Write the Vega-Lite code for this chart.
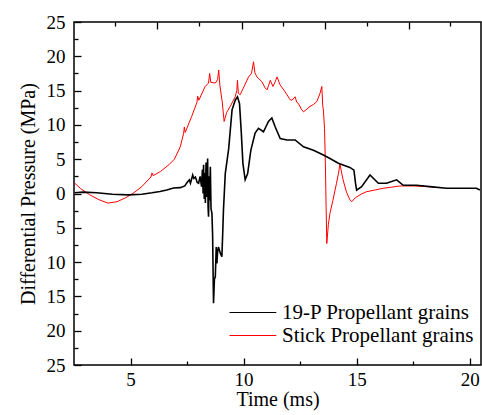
{
  "$schema": "https://vega.github.io/schema/vega-lite/v6.json",
  "width": 407,
  "height": 343,
  "autosize": {"type": "none"},
  "padding": {"left": 74, "top": 22, "right": 1, "bottom": 50},
  "config": {
    "view": {"stroke": "#000", "strokeWidth": 1.5},
    "axis": {
      "grid": false,
      "domain": false,
      "tickColor": "#000",
      "tickWidth": 1.3,
      "labelFont": "Liberation Serif",
      "labelFontSize": 19,
      "labelColor": "#000",
      "titleFont": "Liberation Serif",
      "titleFontSize": 20,
      "titleFontWeight": "normal",
      "titleColor": "#000"
    },
    "legend": {
      "labelFont": "Liberation Serif",
      "labelFontSize": 21,
      "labelColor": "#000",
      "labelLimit": 0
    }
  },
  "data": {
    "values": [
      {"t": 2.53, "p": 1.5, "s": "Stick Propellant grains"},
      {"t": 2.8, "p": 0.7, "s": "Stick Propellant grains"},
      {"t": 3.2, "p": -0.2, "s": "Stick Propellant grains"},
      {"t": 3.6, "p": -0.9, "s": "Stick Propellant grains"},
      {"t": 4.0, "p": -1.4, "s": "Stick Propellant grains"},
      {"t": 4.4, "p": -1.2, "s": "Stick Propellant grains"},
      {"t": 4.8, "p": -0.6, "s": "Stick Propellant grains"},
      {"t": 5.1, "p": 0.0, "s": "Stick Propellant grains"},
      {"t": 5.5, "p": 1.0, "s": "Stick Propellant grains"},
      {"t": 5.9, "p": 2.4, "s": "Stick Propellant grains"},
      {"t": 5.95, "p": 3.0, "s": "Stick Propellant grains"},
      {"t": 6.0, "p": 2.6, "s": "Stick Propellant grains"},
      {"t": 6.32, "p": 3.2, "s": "Stick Propellant grains"},
      {"t": 6.7, "p": 4.2, "s": "Stick Propellant grains"},
      {"t": 6.94, "p": 5.0, "s": "Stick Propellant grains"},
      {"t": 7.2, "p": 6.8, "s": "Stick Propellant grains"},
      {"t": 7.35, "p": 8.8, "s": "Stick Propellant grains"},
      {"t": 7.38, "p": 9.7, "s": "Stick Propellant grains"},
      {"t": 7.42, "p": 8.9, "s": "Stick Propellant grains"},
      {"t": 7.7, "p": 11.2, "s": "Stick Propellant grains"},
      {"t": 7.94, "p": 13.3, "s": "Stick Propellant grains"},
      {"t": 7.97, "p": 14.2, "s": "Stick Propellant grains"},
      {"t": 8.02, "p": 13.6, "s": "Stick Propellant grains"},
      {"t": 8.3, "p": 15.6, "s": "Stick Propellant grains"},
      {"t": 8.45, "p": 16.1, "s": "Stick Propellant grains"},
      {"t": 8.5, "p": 17.5, "s": "Stick Propellant grains"},
      {"t": 8.55, "p": 16.2, "s": "Stick Propellant grains"},
      {"t": 8.75, "p": 16.1, "s": "Stick Propellant grains"},
      {"t": 8.85, "p": 16.6, "s": "Stick Propellant grains"},
      {"t": 8.9, "p": 18.0, "s": "Stick Propellant grains"},
      {"t": 8.95, "p": 15.8, "s": "Stick Propellant grains"},
      {"t": 9.05, "p": 13.5, "s": "Stick Propellant grains"},
      {"t": 9.14, "p": 10.5, "s": "Stick Propellant grains"},
      {"t": 9.25, "p": 11.8, "s": "Stick Propellant grains"},
      {"t": 9.41, "p": 12.7, "s": "Stick Propellant grains"},
      {"t": 9.63, "p": 14.1, "s": "Stick Propellant grains"},
      {"t": 9.7, "p": 15.0, "s": "Stick Propellant grains"},
      {"t": 9.73, "p": 16.5, "s": "Stick Propellant grains"},
      {"t": 9.77, "p": 14.6, "s": "Stick Propellant grains"},
      {"t": 9.85, "p": 14.4, "s": "Stick Propellant grains"},
      {"t": 10.05, "p": 15.8, "s": "Stick Propellant grains"},
      {"t": 10.22, "p": 17.0, "s": "Stick Propellant grains"},
      {"t": 10.35, "p": 17.5, "s": "Stick Propellant grains"},
      {"t": 10.44, "p": 19.2, "s": "Stick Propellant grains"},
      {"t": 10.5, "p": 17.6, "s": "Stick Propellant grains"},
      {"t": 10.59, "p": 17.0, "s": "Stick Propellant grains"},
      {"t": 10.81, "p": 16.3, "s": "Stick Propellant grains"},
      {"t": 10.95, "p": 15.4, "s": "Stick Propellant grains"},
      {"t": 11.04, "p": 15.1, "s": "Stick Propellant grains"},
      {"t": 11.1, "p": 15.7, "s": "Stick Propellant grains"},
      {"t": 11.18, "p": 16.5, "s": "Stick Propellant grains"},
      {"t": 11.3, "p": 15.6, "s": "Stick Propellant grains"},
      {"t": 11.4, "p": 16.3, "s": "Stick Propellant grains"},
      {"t": 11.48, "p": 17.0, "s": "Stick Propellant grains"},
      {"t": 11.55, "p": 16.4, "s": "Stick Propellant grains"},
      {"t": 11.62, "p": 15.8, "s": "Stick Propellant grains"},
      {"t": 11.8, "p": 15.0, "s": "Stick Propellant grains"},
      {"t": 11.92, "p": 14.4, "s": "Stick Propellant grains"},
      {"t": 12.05, "p": 13.7, "s": "Stick Propellant grains"},
      {"t": 12.14, "p": 13.6, "s": "Stick Propellant grains"},
      {"t": 12.28, "p": 14.1, "s": "Stick Propellant grains"},
      {"t": 12.35, "p": 13.3, "s": "Stick Propellant grains"},
      {"t": 12.43, "p": 13.1, "s": "Stick Propellant grains"},
      {"t": 12.55, "p": 12.3, "s": "Stick Propellant grains"},
      {"t": 12.65, "p": 11.9, "s": "Stick Propellant grains"},
      {"t": 12.8, "p": 12.3, "s": "Stick Propellant grains"},
      {"t": 12.94, "p": 12.7, "s": "Stick Propellant grains"},
      {"t": 13.1, "p": 13.0, "s": "Stick Propellant grains"},
      {"t": 13.24, "p": 13.4, "s": "Stick Propellant grains"},
      {"t": 13.38, "p": 14.6, "s": "Stick Propellant grains"},
      {"t": 13.46, "p": 15.6, "s": "Stick Propellant grains"},
      {"t": 13.5, "p": 12.8, "s": "Stick Propellant grains"},
      {"t": 13.53, "p": 12.2, "s": "Stick Propellant grains"},
      {"t": 13.58, "p": 9.5, "s": "Stick Propellant grains"},
      {"t": 13.62, "p": 4.0, "s": "Stick Propellant grains"},
      {"t": 13.65, "p": -2.0, "s": "Stick Propellant grains"},
      {"t": 13.68, "p": -7.3, "s": "Stick Propellant grains"},
      {"t": 13.75, "p": -4.5, "s": "Stick Propellant grains"},
      {"t": 13.82, "p": -2.9, "s": "Stick Propellant grains"},
      {"t": 13.95, "p": -1.0, "s": "Stick Propellant grains"},
      {"t": 14.11, "p": 1.5, "s": "Stick Propellant grains"},
      {"t": 14.2, "p": 3.0, "s": "Stick Propellant grains"},
      {"t": 14.26, "p": 4.3, "s": "Stick Propellant grains"},
      {"t": 14.4, "p": 2.0, "s": "Stick Propellant grains"},
      {"t": 14.55, "p": 0.2, "s": "Stick Propellant grains"},
      {"t": 14.7, "p": -0.9, "s": "Stick Propellant grains"},
      {"t": 14.78, "p": -1.2, "s": "Stick Propellant grains"},
      {"t": 14.95, "p": -0.6, "s": "Stick Propellant grains"},
      {"t": 15.2, "p": -0.1, "s": "Stick Propellant grains"},
      {"t": 15.44, "p": 0.26, "s": "Stick Propellant grains"},
      {"t": 15.8, "p": 0.5, "s": "Stick Propellant grains"},
      {"t": 16.17, "p": 0.76, "s": "Stick Propellant grains"},
      {"t": 16.5, "p": 0.9, "s": "Stick Propellant grains"},
      {"t": 16.91, "p": 1.1, "s": "Stick Propellant grains"},
      {"t": 17.5, "p": 1.1, "s": "Stick Propellant grains"},
      {"t": 18.09, "p": 1.0, "s": "Stick Propellant grains"},
      {"t": 18.5, "p": 0.9, "s": "Stick Propellant grains"},
      {"t": 2.53, "p": 0.1, "s": "19-P Propellant grains"},
      {"t": 2.9, "p": 0.2, "s": "19-P Propellant grains"},
      {"t": 3.5, "p": 0.1, "s": "19-P Propellant grains"},
      {"t": 4.2, "p": -0.1, "s": "19-P Propellant grains"},
      {"t": 4.9, "p": -0.2, "s": "19-P Propellant grains"},
      {"t": 5.5, "p": -0.1, "s": "19-P Propellant grains"},
      {"t": 5.95, "p": 0.1, "s": "19-P Propellant grains"},
      {"t": 6.3, "p": 0.3, "s": "19-P Propellant grains"},
      {"t": 6.6, "p": 0.5, "s": "19-P Propellant grains"},
      {"t": 6.9, "p": 0.8, "s": "19-P Propellant grains"},
      {"t": 7.2, "p": 0.85, "s": "19-P Propellant grains"},
      {"t": 7.4, "p": 1.1, "s": "19-P Propellant grains"},
      {"t": 7.5, "p": 1.6, "s": "19-P Propellant grains"},
      {"t": 7.6, "p": 2.0, "s": "19-P Propellant grains"},
      {"t": 7.65, "p": 1.5, "s": "19-P Propellant grains"},
      {"t": 7.75, "p": 2.7, "s": "19-P Propellant grains"},
      {"t": 7.8, "p": 2.2, "s": "19-P Propellant grains"},
      {"t": 7.87, "p": 2.4, "s": "19-P Propellant grains"},
      {"t": 7.95, "p": 1.6, "s": "19-P Propellant grains"},
      {"t": 8.01, "p": 1.5, "s": "19-P Propellant grains"},
      {"t": 8.08, "p": 2.5, "s": "19-P Propellant grains"},
      {"t": 8.14, "p": 1.0, "s": "19-P Propellant grains"},
      {"t": 8.18, "p": 3.5, "s": "19-P Propellant grains"},
      {"t": 8.21, "p": 0.0, "s": "19-P Propellant grains"},
      {"t": 8.23, "p": 4.2, "s": "19-P Propellant grains"},
      {"t": 8.26, "p": -0.8, "s": "19-P Propellant grains"},
      {"t": 8.29, "p": 3.0, "s": "19-P Propellant grains"},
      {"t": 8.31, "p": -1.4, "s": "19-P Propellant grains"},
      {"t": 8.34, "p": 4.5, "s": "19-P Propellant grains"},
      {"t": 8.37, "p": -0.5, "s": "19-P Propellant grains"},
      {"t": 8.41, "p": 5.1, "s": "19-P Propellant grains"},
      {"t": 8.43, "p": -2.0, "s": "19-P Propellant grains"},
      {"t": 8.45, "p": -3.4, "s": "19-P Propellant grains"},
      {"t": 8.48, "p": 2.5, "s": "19-P Propellant grains"},
      {"t": 8.5, "p": -1.0, "s": "19-P Propellant grains"},
      {"t": 8.53, "p": 3.9, "s": "19-P Propellant grains"},
      {"t": 8.56, "p": -2.2, "s": "19-P Propellant grains"},
      {"t": 8.6, "p": -2.9, "s": "19-P Propellant grains"},
      {"t": 8.63, "p": -6.0, "s": "19-P Propellant grains"},
      {"t": 8.67, "p": -16.0, "s": "19-P Propellant grains"},
      {"t": 8.71, "p": -12.5, "s": "19-P Propellant grains"},
      {"t": 8.75, "p": -12.1, "s": "19-P Propellant grains"},
      {"t": 8.79, "p": -7.8, "s": "19-P Propellant grains"},
      {"t": 8.82, "p": -10.2, "s": "19-P Propellant grains"},
      {"t": 8.85, "p": -8.5, "s": "19-P Propellant grains"},
      {"t": 8.89, "p": -7.8, "s": "19-P Propellant grains"},
      {"t": 8.97, "p": -8.7, "s": "19-P Propellant grains"},
      {"t": 9.04, "p": -9.2, "s": "19-P Propellant grains"},
      {"t": 9.08, "p": -5.5, "s": "19-P Propellant grains"},
      {"t": 9.11, "p": -2.4, "s": "19-P Propellant grains"},
      {"t": 9.19, "p": 2.9, "s": "19-P Propellant grains"},
      {"t": 9.34, "p": 6.5, "s": "19-P Propellant grains"},
      {"t": 9.49, "p": 12.2, "s": "19-P Propellant grains"},
      {"t": 9.63, "p": 13.6, "s": "19-P Propellant grains"},
      {"t": 9.73, "p": 14.1, "s": "19-P Propellant grains"},
      {"t": 9.82, "p": 13.1, "s": "19-P Propellant grains"},
      {"t": 9.9, "p": 8.8, "s": "19-P Propellant grains"},
      {"t": 9.97, "p": 4.4, "s": "19-P Propellant grains"},
      {"t": 10.07, "p": 2.0, "s": "19-P Propellant grains"},
      {"t": 10.18, "p": 2.9, "s": "19-P Propellant grains"},
      {"t": 10.32, "p": 6.3, "s": "19-P Propellant grains"},
      {"t": 10.51, "p": 8.8, "s": "19-P Propellant grains"},
      {"t": 10.66, "p": 9.5, "s": "19-P Propellant grains"},
      {"t": 10.88, "p": 9.0, "s": "19-P Propellant grains"},
      {"t": 11.1, "p": 10.5, "s": "19-P Propellant grains"},
      {"t": 11.25, "p": 11.0, "s": "19-P Propellant grains"},
      {"t": 11.4, "p": 9.7, "s": "19-P Propellant grains"},
      {"t": 11.62, "p": 8.0, "s": "19-P Propellant grains"},
      {"t": 11.92, "p": 7.8, "s": "19-P Propellant grains"},
      {"t": 12.28, "p": 7.8, "s": "19-P Propellant grains"},
      {"t": 12.65, "p": 6.8, "s": "19-P Propellant grains"},
      {"t": 13.09, "p": 6.3, "s": "19-P Propellant grains"},
      {"t": 13.53, "p": 5.6, "s": "19-P Propellant grains"},
      {"t": 13.82, "p": 5.1, "s": "19-P Propellant grains"},
      {"t": 14.19, "p": 4.4, "s": "19-P Propellant grains"},
      {"t": 14.7, "p": 3.8, "s": "19-P Propellant grains"},
      {"t": 14.88, "p": 3.4, "s": "19-P Propellant grains"},
      {"t": 14.95, "p": 1.5, "s": "19-P Propellant grains"},
      {"t": 15.0, "p": 0.5, "s": "19-P Propellant grains"},
      {"t": 15.22, "p": 1.0, "s": "19-P Propellant grains"},
      {"t": 15.59, "p": 2.7, "s": "19-P Propellant grains"},
      {"t": 15.96, "p": 1.5, "s": "19-P Propellant grains"},
      {"t": 16.32, "p": 1.5, "s": "19-P Propellant grains"},
      {"t": 16.77, "p": 2.0, "s": "19-P Propellant grains"},
      {"t": 17.06, "p": 1.2, "s": "19-P Propellant grains"},
      {"t": 17.65, "p": 1.2, "s": "19-P Propellant grains"},
      {"t": 18.24, "p": 1.0, "s": "19-P Propellant grains"},
      {"t": 18.97, "p": 0.76, "s": "19-P Propellant grains"},
      {"t": 19.71, "p": 0.76, "s": "19-P Propellant grains"},
      {"t": 20.3, "p": 0.76, "s": "19-P Propellant grains"},
      {"t": 20.45, "p": 0.5, "s": "19-P Propellant grains"}
    ]
  },
  "layer": [
    {
      "transform": [{"filter": "datum.s === 'Stick Propellant grains'"}],
      "mark": {"type": "line", "strokeWidth": 1, "clip": true},
      "encoding": {
        "x": {"field": "t", "type": "quantitative", "scale": {"domain": [2.5, 20.5], "nice": false, "zero": false},
          "axis": {"orient": "bottom", "values": [5, 10, 15, 20], "tickSize": -7, "labelPadding": 12, "title": "Time (ms)", "titlePadding": 0}},
        "y": {"field": "p", "type": "quantitative", "scale": {"domain": [-25, 25], "nice": false},
          "axis": {"orient": "left", "values": [-25, -20, -15, -10, -5, 0, 5, 10, 15, 20, 25], "tickSize": -7, "labelPadding": 16, "labelExpr": "abs(datum.value)", "title": "Differential Pressure (MPa)", "titlePadding": 8}},
        "color": {"field": "s", "type": "nominal",
          "scale": {"domain": ["19-P Propellant grains", "Stick Propellant grains"], "range": ["#000000", "#ff0000"]},
          "legend": {"title": null, "orient": "none", "legendX": 154, "legendY": 280, "symbolType": "M-1,0H4.2", "symbolSize": 324, "symbolStrokeWidth": 1.2, "labelOffset": 33, "labelLimit": 0, "rowPadding": 1, "padding": 0}},
        "order": {"field": "t", "type": "quantitative"}
      }
    },
    {
      "transform": [{"filter": "datum.s === '19-P Propellant grains'"}],
      "mark": {"type": "line", "strokeWidth": 1.6, "clip": true},
      "encoding": {
        "x": {"field": "t", "type": "quantitative", "axis": null},
        "y": {"field": "p", "type": "quantitative", "axis": null},
        "color": {"field": "s", "type": "nominal"},
        "order": {"field": "t", "type": "quantitative"}
      }
    },
    {
      "mark": {"type": "point", "opacity": 0},
      "encoding": {
        "x": {"field": "t", "type": "quantitative",
          "axis": {"orient": "bottom", "values": [7.5, 12.5, 17.5], "tickSize": -4, "labels": false, "title": null}},
        "y": {"field": "p", "type": "quantitative",
          "axis": {"orient": "left", "values": [-22.5, -17.5, -12.5, -7.5, -2.5, 2.5, 7.5, 12.5, 17.5, 22.5], "tickSize": -4, "labels": false, "title": null}}
      }
    },
    {
      "mark": {"type": "point", "opacity": 0},
      "encoding": {
        "x": {"field": "t", "type": "quantitative",
          "axis": {"orient": "top", "values": [6.19, 9.92, 13.6, 17.32], "tickSize": -7, "labels": false, "title": null}},
        "y": {"field": "p", "type": "quantitative", "axis": null}
      }
    },
    {
      "mark": {"type": "point", "opacity": 0},
      "encoding": {
        "x": {"field": "t", "type": "quantitative",
          "axis": {"orient": "top", "values": [4.32, 8.05, 11.73, 15.45, 19.13], "tickSize": -4, "labels": false, "title": null}},
        "y": {"field": "p", "type": "quantitative", "axis": null}
      }
    }
  ],
  "resolve": {"axis": {"x": "independent", "y": "independent"}}
}
